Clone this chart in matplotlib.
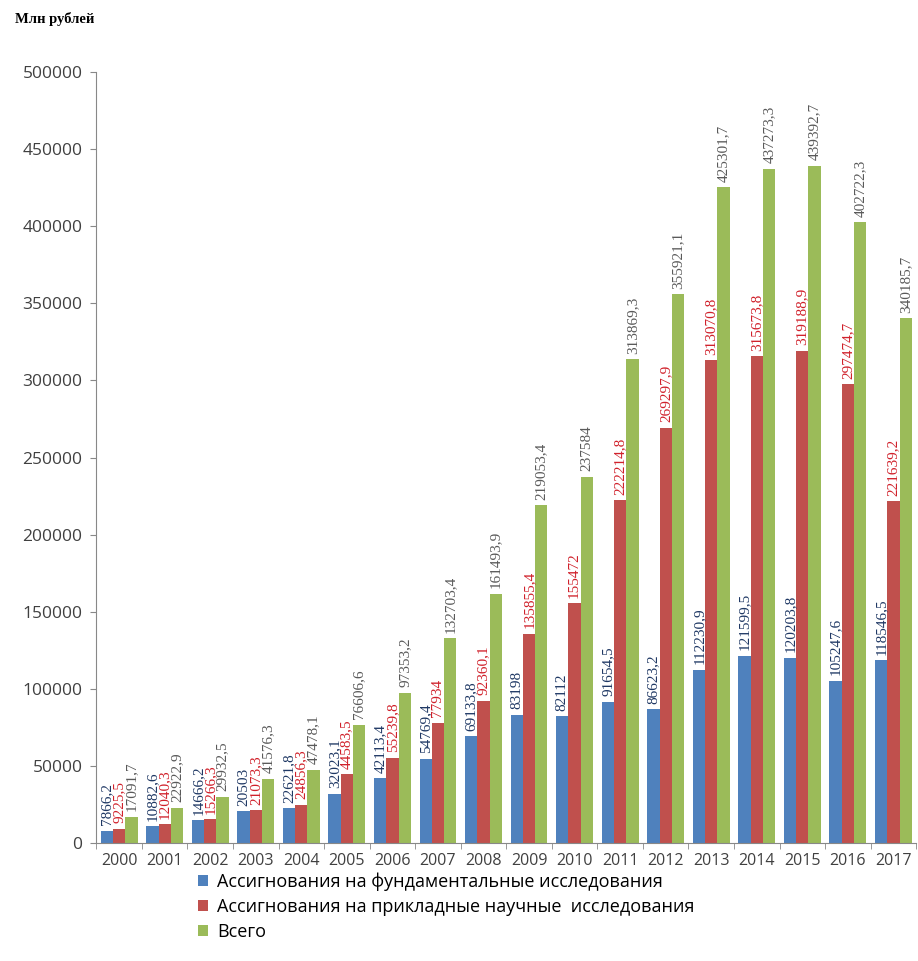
import matplotlib
matplotlib.use("Agg")
import matplotlib.pyplot as plt
import numpy as np

# Allocations for civil science from the federal budget, mln roubles
years = [str(y) for y in range(2000, 2018)]
fundamental = [7866.2, 10882.6, 14666.2, 20503, 22621.8, 32023.1, 42113.4, 54769.4,
               69133.8, 83198, 82112, 91654.5, 86623.2, 112230.9, 121599.5,
               120203.8, 105247.6, 118546.5]
applied = [9225.5, 12040.3, 15266.3, 21073.3, 24856.3, 44583.5, 55239.8, 77934,
           92360.1, 135855.4, 155472, 222214.8, 269297.9, 313070.8, 315673.8,
           319188.9, 297474.7, 221639.2]
total = [17091.7, 22922.9, 29932.5, 41576.3, 47478.1, 76606.6, 97353.2, 132703.4,
         161493.9, 219053.4, 237584, 313869.3, 355921.1, 425301.7, 437273.3,
         439392.7, 402722.3, 340185.7]
series_names = ["Ассигнования на фундаментальные исследования",
                "Ассигнования на прикладные научные  исследования",
                "Всего"]
y_ticks = list(range(0, 500001, 50000))

bar_colors = ["#4F81BD", "#C0504D", "#9BBB59"]
label_colors = ["#1F3864", "#D0202A", "#595959"]


def fmt(v):
    s = f"{v:.1f}".replace(".", ",")
    if s.endswith(",0"):
        s = s[:-2]
    return s


fig = plt.figure(figsize=(9.18, 9.61), dpi=100)
ax = fig.add_axes([0.105, 0.1228, 0.893, 0.8022])

x = np.arange(len(years))
w = 0.27
for i, (vals, col, lcol, name) in enumerate(zip([fundamental, applied, total],
                                                bar_colors, label_colors, series_names)):
    pos = x + (i - 1) * w
    ax.bar(pos, vals, width=w, color=col, label=name, zorder=2)
    for px, v in zip(pos, vals):
        ax.annotate(fmt(v), (px, v), xytext=(0, 4), textcoords="offset points",
                    rotation=90, ha="center", va="bottom", fontsize=11,
                    family="Liberation Serif", color=lcol, zorder=3)

ax.set_xlim(-0.5, len(years) - 0.5)
ax.set_ylim(0, 500000)
ax.set_yticks(y_ticks)
ax.set_yticklabels([str(t) for t in y_ticks], fontsize=12.5, family="Open Sans",
                   color="#404040")
ax.set_xticks(x)
ax.set_xticklabels(years, fontsize=11.5, family="Open Sans", color="#404040")
ax.set_xticks(np.arange(-0.5, len(years), 1), minor=True)
ax.tick_params(axis="x", which="major", length=0, pad=7)
ax.tick_params(axis="x", which="minor", length=4, color="#888888")
ax.tick_params(axis="y", length=4, color="#888888", pad=6)
for s in ["top", "right"]:
    ax.spines[s].set_visible(False)
for s in ["left", "bottom"]:
    ax.spines[s].set_color("#888888")

fig.text(0.016, 0.980, "Млн рублей", fontsize=10.5, fontweight="bold",
         family="Liberation Serif", va="center", ha="left")

handles, labels = ax.get_legend_handles_labels()
fig.legend(handles, labels, loc="upper left", bbox_to_anchor=(0.208, 0.1),
           frameon=False, handlelength=0.55, handleheight=0.55,
           handletextpad=0.5, labelspacing=0.4, borderaxespad=0,
           prop={"family": "Open Sans", "size": 13})

fig.savefig("out.png", dpi=100)
